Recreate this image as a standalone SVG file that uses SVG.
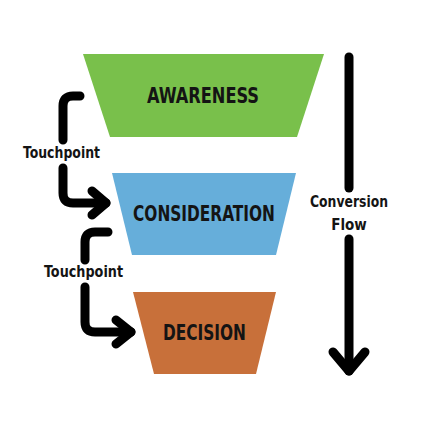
<svg xmlns="http://www.w3.org/2000/svg" width="428" height="428" viewBox="0 0 428 428">
<style>
.stage{font-family:"DejaVu Sans Condensed","DejaVu Sans",sans-serif;font-weight:bold;font-size:21px;fill:#141414;text-anchor:middle}
.lbl{font-family:"DejaVu Sans Condensed","DejaVu Sans",sans-serif;font-weight:bold;font-size:15px;fill:#141414;text-anchor:middle}
.wire{fill:none;stroke:#000;stroke-width:9;stroke-linecap:round;stroke-linejoin:round}
</style>
<rect width="428" height="428" fill="#fff"/>
<g id="awareness">
<polygon points="83,54 324,54 297,137 110,137" fill="#79C04B"/>
<text class="stage" x="203" y="103" textLength="112" lengthAdjust="spacingAndGlyphs">AWARENESS</text>
</g>
<g id="consideration">
<polygon points="112,173 296,173 276,255 132,255" fill="#66AEDA"/>
<text class="stage" x="204" y="221" textLength="142" lengthAdjust="spacingAndGlyphs">CONSIDERATION</text>
</g>
<g id="decision">
<polygon points="133,292 276,292 256,374 154,374" fill="#C8703A"/>
<text class="stage" x="204.5" y="340" textLength="83" lengthAdjust="spacingAndGlyphs">DECISION</text>
</g>
<g id="touchpoint1">
<text class="lbl" x="61.5" y="158" textLength="77" lengthAdjust="spacingAndGlyphs">Touchpoint</text>
</g>
<g id="touchpoint2">
<text class="lbl" x="83.5" y="277" textLength="79" lengthAdjust="spacingAndGlyphs">Touchpoint</text>
</g>
<g id="conversion-flow">
<text class="lbl" x="349" y="207" textLength="78" lengthAdjust="spacingAndGlyphs">Conversion</text>
<text class="lbl" x="349" y="230">Flow</text>
</g>
<g id="connectors">
<path class="wire" d="M80,96 H73 Q63,96 63,106 V140"/>
<path class="wire" d="M63,168 V193 Q63,203 73,203 H106"/>
<path class="wire" d="M92,191 L106,203 L92,215"/>
<path class="wire" d="M108,232 H95 Q85,232 85,242 V260"/>
<path class="wire" d="M85,287 V322 Q85,332 95,332 H131"/>
<path class="wire" d="M116,320 L131,332 L116,344"/>
<path class="wire" d="M349,57 V188"/>
<path class="wire" d="M349,239 V371"/>
<path class="wire" d="M333,352 L349,371 L365,352"/>
</g>
</svg>
